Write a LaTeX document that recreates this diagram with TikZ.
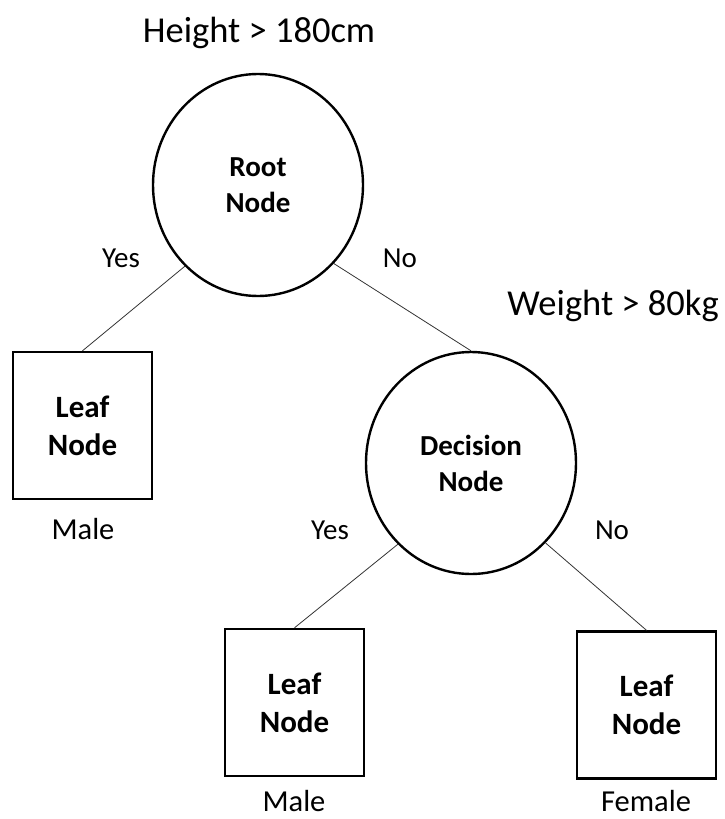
\documentclass[tikz,border=0pt]{standalone}
\usepackage{fontspec}
\setmainfont{Carlito}
\usetikzlibrary{shapes.geometric}

\begin{document}
\begin{tikzpicture}[x=1pt,y=-1pt,
  treenode/.style={ellipse, draw=black, line width=2.4pt, minimum width=210, minimum height=222,
    inner sep=0pt, align=center, font=\fontsize{29}{36}\selectfont\bfseries},
  leafbox/.style={rectangle, draw=black, line width=2.4pt, minimum width=139, minimum height=147,
    inner sep=0pt, align=center, font=\fontsize{31}{38}\selectfont\bfseries},
  test/.style={anchor=base, font=\fontsize{36.5}{44}\selectfont},
  branch/.style={anchor=base, font=\fontsize{29}{35}\selectfont},
  outcome/.style={anchor=base, inner sep=1pt, font=\fontsize{30.5}{37}\selectfont},
  edge/.style={draw=black!80, line width=0.8pt}]

\useasboundingbox (0,0) rectangle (724,819);

% condition labels
\node[test] (hlabel) at (259,42) {Height > 180cm};
\node[test] (wlabel) at (613,315) {Weight > 80kg};

% split nodes
\node[treenode] (root) at (258,185) {Root\\Node};
\node[treenode] (dec) at (471,463) {Decision\\Node};

% leaves
\node[leafbox] (leafA) at (82.5,425.5) {Leaf\\Node};
\node[leafbox] (leafB) at (294.5,702.5) {Leaf\\Node};
\node[leafbox] (leafC) at (646.5,705) {Leaf\\Node};

% branches
\draw[edge] (root.-132.4) -- (leafA.north);
\draw[edge] (root.-46.5) -- (dec.north);
\draw[edge] (dec.-132.8) -- (leafB.north);
\draw[edge] (dec.-47.2) -- (leafC.north);

% branch labels
\node[branch] (y1) at (121,267) {Yes};
\node[branch] (n1) at (400,267) {No};
\node[branch] (y2) at (330,539) {Yes};
\node[branch] (n2) at (612,539) {No};

% class labels
\node[outcome] (oA) at (83,539) {Male};
\node[outcome] (oB) at (294,811) {Male};
\node[outcome] (oC) at (646,811) {Female};
\end{tikzpicture}
\end{document}
